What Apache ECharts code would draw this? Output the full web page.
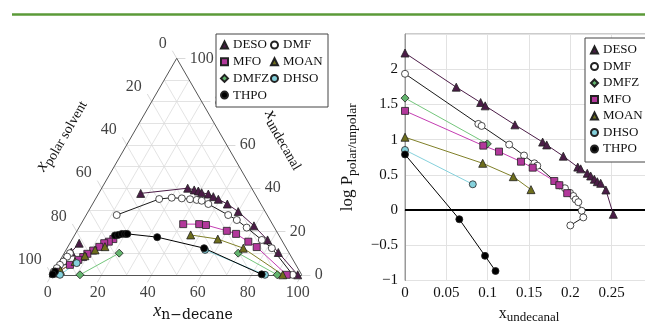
<!DOCTYPE html>
<html>
<head>
<meta charset="utf-8">
<script src="https://cdn.jsdelivr.net/npm/echarts@6/dist/echarts.min.js"></script>
<style>
  html, body { margin: 0; padding: 0; background: #fff; }
  #chart { width: 645px; height: 323px; }
</style>
</head>
<body>
<div id="chart"></div>
<script>
const SERIF = "'Liberation Serif', 'DejaVu Serif', serif";

const names = ['DESO', 'DMF', 'DMFZ', 'MFO', 'MOAN', 'DHSO', 'THPO'];
const ternTicks = [0, 20, 40, 60, 80, 100];
const ternGridSteps = [10, 20, 30, 40, 50, 60, 70, 80, 90];

// ternary points: [x n-decane %, x undecanal %]  (polar solvent = rest)
const ternDESOPolar = [[3.7, 14.6], [2.6, 10.5], [1.6, 6.5], [0.8, 3.2], [0.2, 0.8]];
const ternDESOApolar = [[16.8, 37.6], [34.4, 40.0], [37.4, 39.2], [39.3, 38.7], [41.0, 37.9], [44.0, 37.3], [46.6, 36.1], [49.2, 34.9], [53.9, 32.7], [60.0, 29.2], [69.6, 22.6], [78.3, 16.1], [85.5, 10.3], [98.4, 0]];
const ternDMFPolar = [[2.3, 10.0], [2.0, 8.4], [1.6, 6.1], [1.0, 4.6], [0.5, 3.1], [0.1, 1.5]];
const ternDMFApolar = [[12.2, 27.6], [25.5, 35.0], [30.2, 35.6], [34.4, 35.3], [37.9, 34.9], [40.7, 34.6], [42.9, 34.2], [46.3, 32.7], [56.8, 27.6], [61.4, 25.3], [67.1, 21.8], [76.0, 16.1], [81.9, 12.3], [96.4, 0]];
const ternDMFZPolar = [[22.0, 10.0], [11.3, 0]];
const ternDMFZApolar = [[69.6, 10.0], [90.2, 0]];
const ternMFOPolar = [[16.4, 16.5], [15.2, 15.3], [13.7, 14.6], [12.6, 12.9], [11.0, 11.2], [9.4, 9.7], [8.5, 8.2], [7.2, 6.9], [5.0, 4.6], [1.8, 1.4]];
const ternMFOApolar = [[40.9, 23.4], [47.3, 23.4], [50.2, 23.0], [59.9, 20.3], [64.3, 18.9], [71.0, 15.3], [75.6, 12.8], [94.0, 0]];
const ternMOANPolar = [[14.8, 13.0], [11.6, 11.5], [8.9, 8.8], [6.3, 6.1], [2.5, 2.0]];
const ternMOANApolar = [[46.4, 18.4], [58.2, 16.5], [70.5, 12.3], [92.4, 0]];
const ternDHSOPolar = [[7.3, 5.4], [3.3, 0]];
const ternDHSOApolar = [[55.6, 11.5], [85.3, 0]];
const ternTHPOPolar = [[0.6, 1.5], [0.3, 0.2]];
const ternTHPOApolar = [[16.2, 18.2], [17.4, 18.4], [18.6, 18.9], [19.9, 18.9], [20.8, 18.9], [33.5, 17.4], [54.8, 12.3], [83.9, 0.2]];

// right panel: [x undecanal, log P polar/unpolar]
const logpDESO = [[0, 2.23], [0.062, 1.745], [0.0915, 1.527], [0.097, 1.48], [0.133, 1.21], [0.1665, 0.965], [0.1714, 0.925], [0.1915, 0.765], [0.209, 0.61], [0.2125, 0.585], [0.2205, 0.522], [0.2246, 0.484], [0.229, 0.437], [0.2326, 0.403], [0.2367, 0.38], [0.243, 0.285], [0.252, -0.06]];
const logpDMF = [[0, 1.935], [0.0887, 1.223], [0.0927, 1.195], [0.126, 0.93], [0.144, 0.775], [0.1565, 0.664], [0.16, 0.63], [0.187, 0.35], [0.1935, 0.31], [0.1996, 0.245], [0.2036, 0.2], [0.2065, 0.15], [0.2097, 0.112], [0.2137, -0.01], [0.2157, -0.104], [0.2, -0.218]];
const logpDMFZ = [[0, 1.59], [0.0996, 0.94]];
const logpMFO = [[0, 1.408], [0.0947, 0.915], [0.1137, 0.83], [0.1403, 0.687], [0.1545, 0.602], [0.1806, 0.413], [0.1867, 0.353], [0.1962, 0.24]];
const logpMOAN = [[0, 1.034], [0.094, 0.664], [0.131, 0.474], [0.1524, 0.29]];
const logpDHSO = [[0, 0.853], [0.082, 0.366]];
const logpTHPO = [[0, 0.79], [0.0657, -0.13], [0.0968, -0.65], [0.1095, -0.865]];

const ternData = {
  DESO: [ternDESOPolar, ternDESOApolar],
  DMF: [ternDMFPolar, ternDMFApolar],
  DMFZ: [ternDMFZPolar, ternDMFZApolar],
  MFO: [ternMFOPolar, ternMFOApolar],
  MOAN: [ternMOANPolar, ternMOANApolar],
  DHSO: [ternDHSOPolar, ternDHSOApolar],
  THPO: [ternTHPOPolar, ternTHPOApolar]
};
const logpData = { DESO: logpDESO, DMF: logpDMF, DMFZ: logpDMFZ, MFO: logpMFO, MOAN: logpMOAN, DHSO: logpDHSO, THPO: logpTHPO };

const styles = {
  DESO: { symbol: 'triangle', size: 8, fill: '#4b1c47', line: '#4b1c47' },
  DMF: { symbol: 'circle', size: 7, fill: '#ffffff', line: '#1a1a1a' },
  DMFZ: { symbol: 'diamond', size: 8, fill: '#63b56e', line: '#74c67c' },
  MFO: { symbol: 'rect', size: 7, fill: '#b2389b', line: '#c43db2' },
  MOAN: { symbol: 'triangle', size: 8, fill: '#6e6e1c', line: '#808028' },
  DHSO: { symbol: 'circle', size: 7, fill: '#85d1dc', line: '#85d1dc' },
  THPO: { symbol: 'circle', size: 7, fill: '#000000', line: '#000000' }
};

// ternary -> cartesian (bottom-left = polar solvent, bottom-right = n-decane, top = undecanal)
const H = Math.sqrt(3) / 2;
const tern = (d, u) => [d / 100 + u / 200, u / 100 * H];

const gridSegs = [];
ternGridSteps.forEach(s => {
  gridSegs.push({ coords: [tern(0, s), tern(100 - s, s)] });
  gridSegs.push({ coords: [tern(s, 0), tern(s, 100 - s)] });
  gridSegs.push({ coords: [tern(100 - s, 0), tern(0, 100 - s)] });
});
const tickSegs = [];
ternTicks.forEach(t => {
  const r = tern(100 - t, t);
  tickSegs.push({ coords: [r, [r[0] + 0.035, r[1]]] });
  tickSegs.push({ coords: [tern(0, 100 - t), tern(-3.5, 103.5 - t)] });
  tickSegs.push({ coords: [tern(t, 0), tern(t, -3.5)] });
});
const edgeSegs = [
  { coords: [tern(0, 0), tern(100, 0)] },
  { coords: [tern(100, 0), tern(0, 100)] },
  { coords: [tern(0, 100), tern(0, 0)] }
];

function segSeries(data, color, width, z) {
  return {
    type: 'lines', coordinateSystem: 'cartesian2d', xAxisIndex: 0, yAxisIndex: 0,
    silent: true, clip: false, z: z, data: data,
    lineStyle: { color: color, width: width, opacity: 1 }
  };
}

function tickSeries(points, labelOpt) {
  return {
    type: 'scatter', xAxisIndex: 0, yAxisIndex: 0, silent: true, clip: false,
    symbolSize: 1, itemStyle: { color: 'rgba(0,0,0,0)' }, data: points, z: 3,
    label: Object.assign({
      show: true, position: 'inside', formatter: p => String(p.value[2]),
      color: '#111', fontFamily: SERIF, fontSize: 16
    }, labelOpt)
  };
}

function markSeries(name, data, xi) {
  const st = styles[name];
  return {
    type: 'line', name: name, xAxisIndex: xi, yAxisIndex: xi, data: data,
    symbol: st.symbol, symbolSize: st.size, showAllSymbol: true, clip: false,
    itemStyle: { color: st.fill, borderColor: '#222', borderWidth: 0.8 },
    lineStyle: { color: st.line, width: 1 },
    emphasis: { disabled: true }, z: 5
  };
}

const series = [
  segSeries(gridSegs, '#dcdcdc', 0.8, 1),
  segSeries(tickSegs, '#cfcfcf', 0.8, 1),
  segSeries(edgeSegs, '#555', 1, 2),
  tickSeries(ternTicks.map(t => tern(t, 0).concat(t)), { offset: [-4, 18], align: 'center', verticalAlign: 'middle' }),
  tickSeries(ternTicks.map(t => tern(100 - t, t).concat(t)), { offset: [13, 0], align: 'left', verticalAlign: 'middle' }),
  tickSeries(ternTicks.map(t => tern(0, 100 - t).concat(t)), { offset: [-10, -15], align: 'right', verticalAlign: 'middle' })
];

names.forEach(n => {
  ternData[n].forEach(branch => {
    series.push(markSeries(n, branch.map(p => tern(p[0], p[1])), 0));
  });
});
names.forEach(n => {
  series.push(markSeries(n, logpData[n], 1));
});
// zero line on the right panel
series[series.length - 1].markLine = {
  silent: true, symbol: ['none', 'none'], label: { show: false },
  lineStyle: { color: '#000', width: 2, type: 'solid' },
  data: [{ yAxis: 0 }]
};

const legendText = { fontFamily: SERIF, fontSize: 13, color: '#111', lineHeight: 14 };
const iconOf = n => ({ name: n, icon: styles[n].symbol });

const minus = v => String(v).replace('-', '\u2212');

const chart = echarts.init(document.getElementById('chart'));
chart.setOption({
  animation: false,
  backgroundColor: '#fff',
  grid: [
    { left: 51.7, top: 58.3, width: 250, height: 216.5, outerBoundsMode: 'none' },
    { left: 405, top: 34, right: -8, bottom: 42.5, show: true, borderColor: '#999', borderWidth: 1, outerBoundsMode: 'none' }
  ],
  xAxis: [
    { gridIndex: 0, type: 'value', min: 0, max: 1, show: false },
    {
      gridIndex: 1, type: 'value', min: 0, max: 0.3, interval: 0.05,
      axisLine: { show: true, lineStyle: { color: '#999' } },
      axisTick: { show: false },
      axisLabel: { color: '#111', fontFamily: SERIF, fontSize: 15, margin: 5, showMaxLabel: false, formatter: minus },
      splitLine: { show: true, lineStyle: { color: '#e2e2e2' } },
      name: '{m|x}{s|undecanal}', nameLocation: 'middle', nameGap: 21,
      nameTextStyle: {
        rich: {
          m: { fontFamily: SERIF, fontSize: 16, color: '#111' },
          s: { fontFamily: SERIF, fontSize: 13, color: '#111', padding: [8, 0, 0, 0] }
        }
      }
    }
  ],
  yAxis: [
    { gridIndex: 0, type: 'value', min: 0, max: H, show: false },
    {
      gridIndex: 1, type: 'value', min: -1, max: 2.5, interval: 0.5,
      axisLine: { show: true, lineStyle: { color: '#999' } },
      axisTick: { show: false },
      axisLabel: { color: '#111', fontFamily: SERIF, fontSize: 15, margin: 7, showMaxLabel: false, formatter: minus },
      splitLine: { show: true, lineStyle: { color: '#e2e2e2' } },
      name: '{m|log P}{s|polar/unpolar}', nameLocation: 'middle', nameGap: 46,
      nameTextStyle: {
        rich: {
          m: { fontFamily: SERIF, fontSize: 17, color: '#111' },
          s: { fontFamily: SERIF, fontSize: 13.5, color: '#111', padding: [8, 0, 0, 0] }
        }
      }
    }
  ],
  legend: [
    {
      left: 220, top: 38, orient: 'vertical', padding: 0, itemGap: 2.7, z: 20,
      itemWidth: 7, itemHeight: 7, textStyle: legendText, selectedMode: false,
      data: ['DESO', 'MFO', 'DMFZ', 'THPO'].map(iconOf)
    },
    {
      left: 270, top: 38, orient: 'vertical', padding: 0, itemGap: 2.7, z: 20,
      itemWidth: 7, itemHeight: 7, textStyle: legendText, selectedMode: false,
      data: ['DMF', 'MOAN', 'DHSO'].map(iconOf)
    },
    {
      left: 585, top: 38, orient: 'vertical', padding: [5, 40, 6, 5], itemGap: 2.5, z: 20,
      itemWidth: 7, itemHeight: 7, textStyle: legendText, selectedMode: false,
      borderColor: '#444', borderWidth: 1, backgroundColor: '#fff',
      data: names.map(iconOf)
    }
  ],
  graphic: [
    { type: 'line', shape: { x1: 12, y1: 14.5, x2: 645, y2: 14.5 }, style: { stroke: '#5b9a38', lineWidth: 2.6 } },
    { type: 'rect', z: 10, shape: { x: 216, y: 34, width: 112, height: 73 }, style: { fill: '#fff', stroke: '#444', lineWidth: 1 } },
    {
      type: 'text', x: 193, y: 311,
      style: {
        text: '{m|x}{s|n\u2212decane}', align: 'center', verticalAlign: 'middle', textAlign: 'center', textVerticalAlign: 'middle',
        rich: {
          m: { fontFamily: SERIF, fontSize: 18, fontStyle: 'italic', fill: '#111' },
          s: { fontFamily: "'DejaVu Serif', serif", fontSize: 14, fill: '#111', padding: [9, 0, 0, 0] }
        }
      }
    },
    {
      type: 'text', x: 60, y: 135, rotation: Math.PI / 3,
      style: {
        text: '{m|x}{s|polar solvent}', align: 'center', verticalAlign: 'middle', textAlign: 'center', textVerticalAlign: 'middle',
        rich: {
          m: { fontFamily: SERIF, fontSize: 18, fontStyle: 'italic', fill: '#111' },
          s: { fontFamily: SERIF, fontSize: 14, fill: '#111', padding: [9, 0, 0, 0] }
        }
      }
    },
    {
      type: 'text', x: 285, y: 139, rotation: -Math.PI / 3,
      style: {
        text: '{m|x}{s|undecanal}', align: 'center', verticalAlign: 'middle', textAlign: 'center', textVerticalAlign: 'middle',
        rich: {
          m: { fontFamily: SERIF, fontSize: 18, fontStyle: 'italic', fill: '#111' },
          s: { fontFamily: SERIF, fontSize: 14, fill: '#111', padding: [9, 0, 0, 0] }
        }
      }
    }
  ],
  series: series
});
</script>
</body>
</html>
